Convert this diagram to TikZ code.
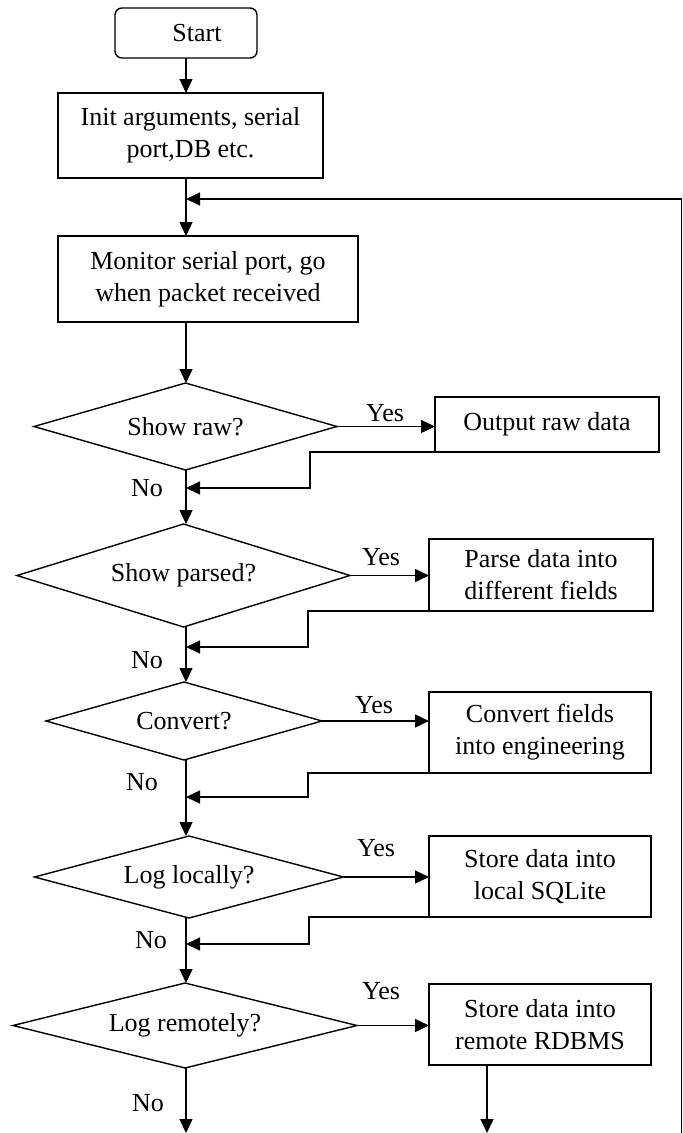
\documentclass[tikz,border=0pt]{standalone}
\usepackage{fontspec}
\setmainfont{Liberation Serif}
\usetikzlibrary{arrows.meta,shapes.geometric}
\begin{document}
\begin{tikzpicture}[x=1pt,y=-1pt,
  every node/.style={font=\fontsize{26}{32}\selectfont},
  box/.style={draw,line width=1.4pt,rectangle,align=center,inner sep=0pt,outer sep=0pt},
  dec/.style={draw,line width=1.4pt,diamond,aspect=3.5,inner sep=0pt,outer sep=0pt},
  lbl/.style={inner sep=0pt},
  arr/.style={line width=1.4pt,-{Triangle[length=14pt,width=13pt]}},
  ln/.style={line width=1.4pt}]
\useasboundingbox (0,0) rectangle (683,1133);
\coordinate (m) at (186,0);
% nodes
\node[box,rounded corners=7pt,minimum width=142pt,minimum height=50pt] (start) at (186,33) {\hspace*{22pt}Start};
\node[box,minimum width=265pt,minimum height=85pt] (init) at (190.5,135.5) {Init arguments, serial\\port,DB etc.};
\node[box,minimum width=300pt,minimum height=86pt] (mon) at (208,279) {Monitor serial port, go\\when packet received};
\node[dec,minimum width=303pt,minimum height=87pt] (d1) at (185.5,426.5) {Show raw?};
\node[box,minimum width=224pt,minimum height=55pt] (out) at (547,424.5) {Output raw data};
\node[dec,minimum width=333pt,minimum height=103pt] (d2) at (183.5,575.5) {Show parsed?};
\node[box,minimum width=224pt,minimum height=72pt] (parse) at (541,575) {\raisebox{-4pt}{Parse data into}\\\raisebox{-4pt}{different fields}};
\node[dec,minimum width=276pt,minimum height=78pt] (d3) at (184,721) {Convert?};
\node[box,minimum width=222pt,minimum height=81pt] (conv) at (540,732.5) {Convert fields\\into engineering};
\node[dec,minimum width=309pt,minimum height=82pt] (d4) at (189,877) {Log locally?};
\node[box,minimum width=222pt,minimum height=81pt] (loc) at (540,876.5) {Store data into\\local SQLite};
\node[dec,minimum width=344pt,minimum height=85pt] (d5) at (185,1025.5) {Log remotely?};
\node[box,minimum width=222pt,minimum height=81pt] (rem) at (540,1024.5) {Store data into\\remote RDBMS};
% labels
\node[lbl] (y1) at (385,413) {Yes};
\node[lbl] (y2) at (381,557) {Yes};
\node[lbl] (y3) at (374,705) {Yes};
\node[lbl] (y4) at (376,848) {Yes};
\node[lbl] (y5) at (381,991) {Yes};
\node[lbl] (n1) at (147,488) {No};
\node[lbl] (n2) at (147,660) {No};
\node[lbl] (n3) at (142,782) {No};
\node[lbl] (n4) at (151,940) {No};
\node[lbl] (n5) at (148,1103) {No};
% main flow
\draw[arr] (start.south -| m) -- (init.north -| m);
\draw[arr] (init.south -| m) -- (mon.north -| m);
\draw[arr] (mon.south -| m) -- (d1.north -| m);
\draw[arr] (d1.south -| m) -- (d2.north -| m);
\draw[arr] (d2.south -| m) -- (d3.north -| m);
\draw[arr] (d3.south -| m) -- (d4.north -| m);
\draw[arr] (d4.south -| m) -- (d5.north -| m);
\coordinate (e1) at (186,1133);
\draw[arr] (d5.south -| m) -- (e1);
% yes branches
\draw[arr] (d1.east) -- (d1.east -| out.west);
\draw[arr] (d2.east) -- (d2.east -| parse.west);
\draw[arr] (d3.east) -- (d3.east -| conv.west);
\draw[arr] (d4.east) -- (d4.east -| loc.west);
\draw[arr] (d5.east) -- (d5.east -| rem.west);
% returns
\coordinate (r1) at (186,488);
\coordinate (r2) at (186,647);
\coordinate (r3) at (186,797);
\coordinate (r4) at (186,944);
\draw[arr] (out.south west) -| (310,488) -- (r1);
\draw[arr] (parse.south west) -| (308,647) -- (r2);
\draw[arr] (conv.south west) -| (308,797) -- (r3);
\draw[arr] (loc.south west) -| (309,944) -- (r4);
\coordinate (e2) at (487,1133);
\draw[arr] (rem.south -| e2) -- (e2);
% feedback loop
\coordinate (fbB) at (681.5,1133);
\coordinate (fbT) at (681.5,199);
\draw[arr] (fbB) -- (fbT) -- (fbT -| m);
\end{tikzpicture}
\end{document}
